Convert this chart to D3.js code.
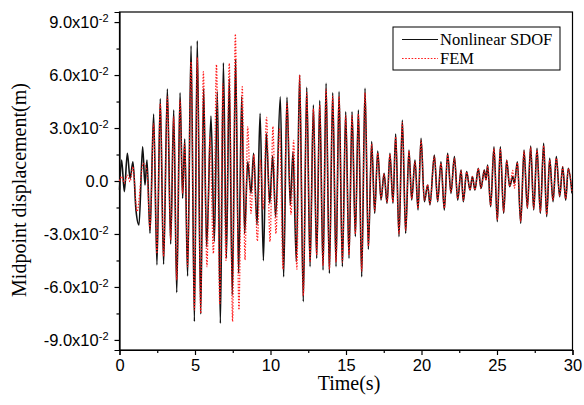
<!DOCTYPE html>
<html>
<head>
<meta charset="utf-8">
<script src="https://cdn.jsdelivr.net/npm/d3@7"></script>
<style>
  body { margin: 0; background: #fff; }
  .tick text { font-family: "Liberation Sans", Arial, sans-serif; font-size: 16.5px; fill: #000; }
  .axis path, .axis line { stroke: #000; stroke-width: 1.2; }
  .label { font-family: "Liberation Serif", "Times New Roman", serif; font-size: 20px; fill: #000; }
  .legend text { font-family: "Liberation Serif", "Times New Roman", serif; font-size: 16.5px; fill: #000; }
</style>
</head>
<body>
<div class="svg-container"></div>
<script>
var width = 584;
var height = 405;

var padding = { "top": 12, "right": 11.5, "bottom": 55, "left": 119.5 };

// data, displacement in units of 10^-2 m (peaks and troughs)
var sdofTime = [0, 0.14, 0.32, 0.52, 0.70, 0.89, 1.09, 1.29, 1.53, 1.69,
  1.82, 2.02, 2.26, 2.48, 2.70, 2.92, 3.17, 3.39, 3.59, 3.79,
  4.01, 4.18, 4.32, 4.51, 4.74, 4.96, 5.15, 5.38, 5.57, 5.77,
  6.06, 6.28, 6.48, 6.68, 6.88, 7.08, 7.27, 7.47, 7.69, 7.89,
  8.09, 8.29, 8.49, 8.71, 8.88, 9.11, 9.31, 9.53, 9.72, 9.95,
  10.14, 10.34, 10.65, 10.87, 11.09, 11.31, 11.49, 11.71, 11.93, 12.17,
  12.40, 12.62, 12.84, 13.06, 13.26, 13.48, 13.68, 13.90, 14.12, 14.34,
  14.54, 14.76, 14.98, 15.20, 15.40, 15.62, 15.82, 16.04, 16.26, 16.48,
  16.70, 16.90, 17.10, 17.32, 17.52, 17.72, 17.91, 18.11, 18.29, 18.51,
  18.73, 18.95, 19.17, 19.35, 19.57, 19.77, 19.97, 20.19, 20.41, 20.56,
  20.85, 21.07, 21.29, 21.51, 21.73, 21.95, 22.18, 22.40, 22.62, 22.77,
  22.99, 23.21, 23.37, 23.54, 23.76, 23.94, 24.16, 24.27, 24.38, 24.58,
  24.80, 25.02, 25.22, 25.44, 25.64, 25.84, 26.04, 26.15, 26.35, 26.57,
  26.79, 27.01, 27.23, 27.43, 27.65, 27.87, 28.09, 28.29, 28.49, 28.71,
  28.93, 29.15, 29.35, 29.55, 29.72, 29.97];

var sdofDisp = [-0.5, 1.19, -0.60, 1.57, 0.15, 1.09, -1.64, -2.49, 1.94, -0.23,
  1.19, -2.96, 3.79, -4.75, 4.66, -4.72, 5.21, -3.57, 4.02, -6.32,
  5.00, -0.98, 2.38, -5.38, 7.66, -7.96, 7.94, -7.53, 5.25, -3.72,
  3.68, -3.43, 5.06, -8.06, 6.70, -4.38, 5.81, -6.45, 6.89, -5.23,
  4.77, -2.96, 1.09, -0.70, 1.57, -2.49, 3.83, -4.51, 2.70, -1.26,
  1.42, -2.02, 4.77, -5.42, 4.74, -1.36, 1.66, -4.57, 6.00, -6.83,
  5.30, -4.85, 4.30, -4.38, 4.55, -5.04, 5.53, -5.23, 5.00, -4.85,
  5.06, -4.85, 3.92, -4.38, 3.92, -3.15, 4.02, -5.42, 5.25, -3.87,
  2.23, -1.83, 1.70, -1.08, 0.43, -1.26, 1.57, -1.26, 2.66, -3.15,
  3.45, -2.96, 1.75, -1.08, 1.19, -1.64, 2.42, -1.17, -0.23, -1.36,
  1.47, -1.17, 1.09, -1.64, 1.57, -0.70, 1.38, -1.08, 0.62, -1.17,
  0.53, -0.51, 0.25, -0.51, 0.72, -0.42, 0.62, 0.06, 0.91, -1.45,
  1.94, -2.30, 1.94, -1.83, 1.19, -0.32, 0.25, -0.13, 1.09, -2.40,
  1.75, -1.55, 1.98, -1.64, 1.85, -1.83, 2.13, -2.02, 1.28, -1.17,
  1.38, -0.89, 0.81, -1.08, 0.72, -0.70];

var femTime = [0, 0.14, 0.32, 0.52, 0.70, 0.89, 1.16, 1.57, 1.82, 2.02,
  2.26, 2.48, 2.70, 2.92, 3.17, 3.39, 3.59, 3.79, 4.01, 4.18,
  4.32, 4.51, 4.74, 4.96, 5.15, 5.38, 5.55, 5.79, 5.99, 6.22,
  6.42, 6.64, 6.85, 7.05, 7.27, 7.49, 7.67, 7.91, 8.13, 8.31,
  8.49, 8.71, 8.90, 9.13, 9.33, 9.52, 9.74, 9.97, 10.16, 10.36,
  10.60, 10.83, 11.09, 11.36, 11.53, 11.75, 11.93, 12.17, 12.40, 12.62,
  12.84, 13.06, 13.26, 13.48, 13.68, 13.90, 14.12, 14.34, 14.54, 14.76,
  14.98, 15.20, 15.40, 15.62, 15.82, 16.04, 16.26, 16.48, 16.70, 16.90,
  17.10, 17.32, 17.52, 17.72, 17.91, 18.11, 18.29, 18.51, 18.73, 18.95,
  19.17, 19.35, 19.57, 19.77, 19.97, 20.19, 20.41, 20.56, 20.85, 21.07,
  21.29, 21.51, 21.73, 21.95, 22.18, 22.40, 22.62, 22.77, 22.99, 23.21,
  23.37, 23.54, 23.76, 23.94, 24.16, 24.27, 24.38, 24.58, 24.80, 25.02,
  25.22, 25.44, 25.64, 25.84, 26.04, 26.15, 26.35, 26.57, 26.79, 27.01,
  27.23, 27.43, 27.65, 27.87, 28.09, 28.29, 28.49, 28.71, 28.93, 29.15,
  29.35, 29.55, 29.72, 29.97];

var femDisp = [0.0, 0.25, -0.13, 0.34, -0.04, 0.81, -1.74, 1.0, 0.6, -2.7,
  3.26, -4.1, 4.4, -4.28, 4.77, -3.34, 3.64, -5.6, 4.58, -0.7,
  2.13, -4.85, 6.75, -7.3, 7.0, -7.49, 6.19, -4.85, 2.51, -4.1,
  6.6, -7.0, 5.5, -4.5, 6.66, -7.96, 8.32, -7.3, 5.34, -4.47,
  3.08, -1.83, 1.5, -3.4, 1.2, -1.6, 3.6, -3.43, 3.08, -2.98,
  3.0, -5.0, 4.4, -1.9, 2.3, -5.0, 6.0, -6.5, 5.0, -4.6,
  4.1, -4.2, 4.3, -4.8, 5.2, -5.0, 4.8, -4.6, 4.8, -4.6,
  3.7, -4.2, 3.7, -3.0, 3.8, -5.1, 5.0, -3.7, 2.1, -1.7,
  1.6, -1.0, 0.4, -1.2, 1.5, -1.2, 2.5, -3.0, 3.3, -2.8,
  1.7, -1.0, 1.1, -1.55, 2.3, -1.1, -0.2, -1.3, 1.4, -1.1,
  1.0, -1.55, 1.5, -0.65, 1.3, -1.0, 0.6, -1.1, 0.5, -0.5,
  0.25, -0.5, 0.7, -0.4, 0.6, 0.05, 0.85, -1.4, 1.85, -2.2,
  1.85, -1.75, 1.15, -0.3, 0.6, -0.4, 1.05, -2.3, 1.7, -1.5,
  1.9, -1.55, 1.75, -1.75, 2.0, -1.9, 1.2, -1.1, 1.3, -0.85,
  0.8, -1.0, 0.7, -0.65];

var xTicks = [0, 5, 10, 15, 20, 25, 30];
var xMinor = [2.5, 7.5, 12.5, 17.5, 22.5, 27.5];
var yTicks = [-9, -6, -3, 0, 3, 6, 9];
var yMinor = [-7.5, -4.5, -1.5, 1.5, 4.5, 7.5];

var seriesNames = ["Nonlinear SDOF", "FEM"];

var innerW = width - padding.left - padding.right;
var innerH = height - padding.top - padding.bottom;

var svg = d3.select(".svg-container")
            .append("svg")
            .attr("width", width)
            .attr("height", height)
            .append("g")
            .attr("transform", "translate(" + padding.left + "," + padding.top + ")");

var scaleX = d3.scaleLinear().domain([0, 30]).range([0, innerW]);
var scaleY = d3.scaleLinear().domain([-9.57, 9.57]).range([innerH, 0]);

// frame
svg.append("rect")
   .attr("width", innerW)
   .attr("height", innerH)
   .attr("fill", "none")
   .attr("stroke", "#000")
   .attr("stroke-width", 1.2);

// minor ticks
svg.append("g")
   .attr("class", "axis")
   .attr("transform", "translate(0," + innerH + ")")
   .call(d3.axisBottom(scaleX).tickValues(xMinor).tickSize(3).tickFormat(""))
   .select(".domain").remove();

svg.append("g")
   .attr("class", "axis")
   .call(d3.axisLeft(scaleY).tickValues(yMinor).tickSize(3).tickFormat(""))
   .select(".domain").remove();

// major axes
svg.append("g")
   .attr("class", "axis")
   .attr("transform", "translate(0," + innerH + ")")
   .call(d3.axisBottom(scaleX).tickValues(xTicks).tickSize(5).tickPadding(4));

var yAxisG = svg.append("g")
   .attr("class", "axis")
   .call(d3.axisLeft(scaleY).tickValues(yTicks).tickSize(5).tickPadding(6).tickFormat(""));

yAxisG.selectAll(".tick text")
   .each(function(d) {
      var t = d3.select(this);
      if (d === 0) {
         t.text("0.0");
      } else {
         t.text(d3.format(".1f")(d).replace("\u2212", "-") + "x10");
         t.append("tspan")
          .attr("dy", "-0.55em")
          .attr("font-size", "11px")
          .text("-2");
      }
   });

// lines
var line = d3.line()
             .curve(d3.curveMonotoneX)
             .x(function(d) { return scaleX(d[0]); })
             .y(function(d) { return scaleY(d[1]); });

var sdofData = sdofTime.map(function(t, i) { return [t, sdofDisp[i]]; });
var femData = femTime.map(function(t, i) { return [t, femDisp[i]]; });

svg.append("path")
   .datum(sdofData)
   .attr("fill", "none")
   .attr("stroke", "#111")
   .attr("stroke-width", 1.6)
   .attr("d", line);

svg.append("path")
   .datum(femData)
   .attr("fill", "none")
   .attr("stroke", "#ff1a1a")
   .attr("stroke-width", 1.2)
   .attr("stroke-dasharray", "1.5,1.5")
   .attr("d", line);

// labels
svg.append("text")
   .attr("class", "label")
   .attr("x", innerW / 2 + 3)
   .attr("y", innerH + 40)
   .attr("text-anchor", "middle")
   .text("Time(s)");

svg.append("text")
   .attr("class", "label")
   .attr("transform", "rotate(-90)")
   .attr("x", -178)
   .attr("y", -94)
   .attr("text-anchor", "middle")
   .text("Midpoint displacement(m)");

// legend
var legend = svg.append("g")
   .attr("class", "legend")
   .attr("transform", "translate(" + (393 - padding.left) + "," + (27 - padding.top) + ")");

legend.append("rect")
   .attr("width", 167)
   .attr("height", 43)
   .attr("fill", "#fff")
   .attr("stroke", "#000")
   .attr("stroke-width", 1);

var legendStyles = [{ stroke: "#111", dash: null, w: 1.2 }, { stroke: "#ff1a1a", dash: "1.6,1.6", w: 1.2 }];

seriesNames.forEach(function(name, i) {
   var yy = 12.5 + i * 19;
   legend.append("line")
      .attr("x1", 9).attr("x2", 45)
      .attr("y1", yy).attr("y2", yy)
      .attr("stroke", legendStyles[i].stroke)
      .attr("stroke-width", legendStyles[i].w)
      .attr("stroke-dasharray", legendStyles[i].dash);
   legend.append("text")
      .attr("x", 47)
      .attr("y", yy + 5)
      .text(name);
});
</script>
</body>
</html>
